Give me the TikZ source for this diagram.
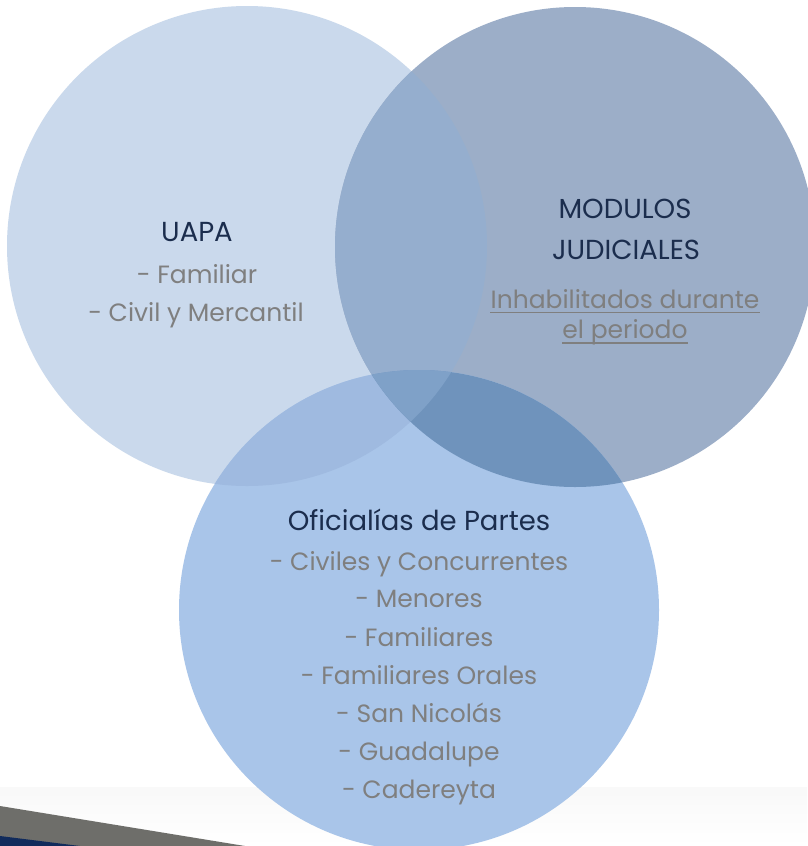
\documentclass[tikz,border=0pt]{standalone}
\usepackage{fontspec}
\setmainfont{Poppins}
\usetikzlibrary{shadings}
\definecolor{cL}{HTML}{CAD9EC}
\definecolor{cR}{HTML}{9CAEC8}
\definecolor{cB}{HTML}{A9C5E9}
\definecolor{cLR}{HTML}{95AECE}
\definecolor{cLB}{HTML}{9FBAE0}
\definecolor{cRB}{HTML}{6F93BC}
\definecolor{cLRB}{HTML}{7FA1C8}
\definecolor{ttl}{HTML}{1B2D4D}
\definecolor{itm}{HTML}{7F7F7F}
\definecolor{wedge}{HTML}{6E6E6A}
\definecolor{navy}{HTML}{112B5C}
\tikzset{
  title/.style={text=ttl, font=\fontsize{27.5}{32}\selectfont, inner sep=0pt, anchor=base},
  item/.style={text=itm, font=\fontsize{25}{30}\selectfont, inner sep=0pt, anchor=base},
  uline/.style={draw=itm, line width=1.3pt},
}
\begin{document}
\begin{tikzpicture}[x=1pt,y=-1pt]
\useasboundingbox (0,0) rectangle (807,846);
\fill[white] (0,0) rectangle (807,846);
% faint band
\shade[top color=black!2.5, bottom color=white] (0,787) rectangle (807,846);
% bottom-left decoration
\fill[wedge] (0,806) -- (245,846) -- (0,846) -- cycle;
\fill[navy] (0,836) -- (80,846) -- (0,846) -- cycle;
% circles
\def\circL{(247,246) circle (240)}
\def\circR{(575,247) circle (240)}
\def\circB{(419,610) circle (240)}
\fill[cL] \circL;
\fill[cR] \circR;
\fill[cB] \circB;
\begin{scope}\clip \circL; \fill[cLR] \circR; \end{scope}
\begin{scope}\clip \circL; \fill[cLB] \circB; \end{scope}
\begin{scope}\clip \circR; \fill[cRB] \circB; \end{scope}
\begin{scope}\clip \circL; \clip \circR; \fill[cLRB] \circB; \end{scope}
% texts
\node[title] (uapa) at (197,241) {UAPA};
\node[item] (fam) at (197,283) {- Familiar};
\node[item] (civ) at (196,321) {- Civil y Mercantil};
\node[title] (mod) at (625,218) {MODULOS};
\node[title] (jud) at (626,259) {JUDICIALES};
\node[item] (inh) at (625,308) {Inhabilitados durante};
\node[item] (per) at (625,338) {el periodo};
\draw[uline] ([yshift=-4.5pt]inh.base west) -- ([yshift=-4.5pt]inh.base east);
\draw[uline] ([yshift=-5pt]per.base west) -- ([yshift=-5pt]per.base east);
\node[title] (ofi) at (419,530) {Oficialías de Partes};
\node[item] (o1) at (419,570) {- Civiles y Concurrentes};
\node[item] (o2) at (419,607) {- Menores};
\node[item] (o3) at (419,646) {- Familiares};
\node[item] (o4) at (419,684) {- Familiares Orales};
\node[item] (o5) at (419,722) {- San Nicolás};
\node[item] (o6) at (419,760) {- Guadalupe};
\node[item] (o7) at (419,798) {- Cadereyta};
\end{tikzpicture}
\end{document}
